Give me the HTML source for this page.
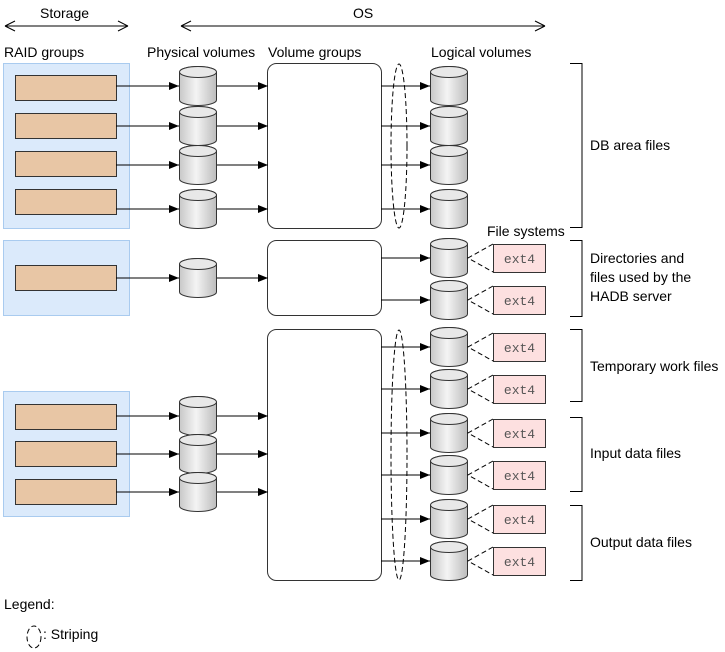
<!DOCTYPE html>
<html><head><meta charset="utf-8"><style>
html,body{margin:0;padding:0;background:#fff;}
svg{display:block;font-family:"Liberation Sans",sans-serif;}
</style></head><body>
<svg width="725" height="652" viewBox="0 0 725 652" xmlns="http://www.w3.org/2000/svg">
<defs>
<linearGradient id="cg" x1="0" x2="1" y1="0" y2="0">
<stop offset="0" stop-color="#c8c8c8"/><stop offset="0.45" stop-color="#f4f4f4"/><stop offset="1" stop-color="#bcbcbc"/>
</linearGradient>
<symbol id="cyl" viewBox="0 0 38 40" width="38" height="40">
<path d="M0.5,6 A18.5,5.5 0 0 1 37.5,6 V34 A18.5,5.5 0 0 1 0.5,34 Z" fill="url(#cg)" stroke="#333" stroke-width="1"/>
<ellipse cx="19" cy="6" rx="18.5" ry="5.5" fill="#e8e8e8" stroke="#333" stroke-width="1"/>
</symbol>
<marker id="ar" viewBox="0 0 10 8" refX="10" refY="4" markerWidth="10" markerHeight="8" orient="auto" markerUnits="userSpaceOnUse">
<path d="M0,0 L10,4 L0,8 Z" fill="#000"/>
</marker>
</defs>
<g font-size="14" fill="#000">
<text x="40" y="18">Storage</text>
<text x="353" y="18">OS</text>
<text x="4" y="57">RAID groups</text>
<text x="147" y="57">Physical volumes</text>
<text x="268" y="57">Volume groups</text>
<text x="431" y="57">Logical volumes</text>
<text x="487" y="236">File systems</text>
<text x="590" y="150">DB area files</text>
<text x="590" y="263">Directories and</text>
<text x="590" y="282">files used by the</text>
<text x="590" y="301">HADB server</text>
<text x="590" y="371">Temporary work files</text>
<text x="590" y="458">Input data files</text>
<text x="590" y="547">Output data files</text>
<text x="4" y="609">Legend:</text>
<text x="43" y="639">: Striping</text>
</g>
<g stroke="#000" fill="none" stroke-width="1">
<path d="M5,26 H128 M5,26 l10,-5 M5,26 l10,5 M128,26 l-10,-5 M128,26 l-10,5"/>
<path d="M181,26 H545 M181,26 l10,-5 M181,26 l10,5 M545,26 l-10,-5 M545,26 l-10,5"/>
<path d="M570,63.5 H582 V227.5 H570"/>
<path d="M570,240.5 H582 V316.5 H570"/>
<path d="M570,329.5 H582 V401.5 H570"/>
<path d="M570,417.5 H582 V491.5 H570"/>
<path d="M570,505.5 H582 V580.5 H570"/>
</g>
<g fill="#dbeafb" stroke="#a9cbef">
<rect x="3.5" y="63.5" width="126" height="165"/>
<rect x="3.5" y="240.5" width="126" height="75"/>
<rect x="3.5" y="391.5" width="126" height="125"/>
</g>
<g fill="#e8c6a5" stroke="#333">
<rect x="15.5" y="75.5" width="101" height="25"/>
<rect x="15.5" y="113.5" width="101" height="25"/>
<rect x="15.5" y="151.5" width="101" height="25"/>
<rect x="15.5" y="189.5" width="101" height="25"/>
<rect x="15.5" y="265.5" width="101" height="25"/>
<rect x="15.5" y="404.5" width="101" height="25"/>
<rect x="15.5" y="441.5" width="101" height="25"/>
<rect x="15.5" y="479.5" width="101" height="25"/>
</g>
<g fill="#fff" stroke="#333">
<rect x="267.5" y="63.5" width="114" height="165" rx="9"/>
<rect x="267.5" y="240.5" width="114" height="75" rx="9"/>
<rect x="267.5" y="329.5" width="114" height="251" rx="9"/>
</g>
<g stroke="#000" stroke-width="1" marker-end="url(#ar)">
<line x1="116" y1="86" x2="179" y2="86"/>
<line x1="116" y1="126" x2="179" y2="126"/>
<line x1="116" y1="165" x2="179" y2="165"/>
<line x1="116" y1="209" x2="179" y2="209"/>
<line x1="116" y1="278" x2="179" y2="278"/>
<line x1="116" y1="416" x2="179" y2="416"/>
<line x1="116" y1="454" x2="179" y2="454"/>
<line x1="116" y1="492" x2="179" y2="492"/>
<line x1="217" y1="86" x2="268" y2="86"/>
<line x1="217" y1="126" x2="268" y2="126"/>
<line x1="217" y1="165" x2="268" y2="165"/>
<line x1="217" y1="209" x2="268" y2="209"/>
<line x1="217" y1="278" x2="268" y2="278"/>
<line x1="217" y1="416" x2="268" y2="416"/>
<line x1="217" y1="454" x2="268" y2="454"/>
<line x1="217" y1="492" x2="268" y2="492"/>
<line x1="381" y1="86" x2="430" y2="86"/>
<line x1="381" y1="126" x2="430" y2="126"/>
<line x1="381" y1="165" x2="430" y2="165"/>
<line x1="381" y1="209" x2="430" y2="209"/>
<line x1="381" y1="258" x2="430" y2="258"/>
<line x1="381" y1="300" x2="430" y2="300"/>
<line x1="381" y1="347" x2="430" y2="347"/>
<line x1="381" y1="389" x2="430" y2="389"/>
<line x1="381" y1="433" x2="430" y2="433"/>
<line x1="381" y1="475" x2="430" y2="475"/>
<line x1="381" y1="519" x2="430" y2="519"/>
<line x1="381" y1="561" x2="430" y2="561"/>
</g>
<g>
<use href="#cyl" x="179" y="66"/><use href="#cyl" x="179" y="106"/><use href="#cyl" x="179" y="145"/><use href="#cyl" x="179" y="189"/>
<use href="#cyl" x="179" y="258"/>
<use href="#cyl" x="179" y="396"/><use href="#cyl" x="179" y="434"/><use href="#cyl" x="179" y="472"/>
<use href="#cyl" x="430" y="66"/><use href="#cyl" x="430" y="106"/><use href="#cyl" x="430" y="145"/><use href="#cyl" x="430" y="189"/>
<use href="#cyl" x="430" y="238"/><use href="#cyl" x="430" y="280"/>
<use href="#cyl" x="430" y="327"/><use href="#cyl" x="430" y="369"/><use href="#cyl" x="430" y="413"/><use href="#cyl" x="430" y="455"/><use href="#cyl" x="430" y="499"/><use href="#cyl" x="430" y="541"/>
</g>
<g stroke="#000" fill="none" stroke-dasharray="5,3">
<ellipse cx="399" cy="146" rx="8" ry="82"/>
<ellipse cx="399" cy="455" rx="8" ry="125"/>
<ellipse cx="34" cy="637" rx="7" ry="11"/>
<path d="M493,244 L468,258 L493,272 M493,286 L468,300 L493,314 M493,333 L468,347 L493,361 M493,375 L468,389 L493,403 M493,419 L468,433 L493,447 M493,461 L468,475 L493,489 M493,505 L468,519 L493,533 M493,547 L468,561 L493,575"/>
</g>
<g fill="#fde0e0" stroke="#333">
<rect x="493.5" y="244.5" width="52" height="28"/>
<rect x="493.5" y="286.5" width="52" height="28"/>
<rect x="493.5" y="333.5" width="52" height="28"/>
<rect x="493.5" y="375.5" width="52" height="28"/>
<rect x="493.5" y="419.5" width="52" height="28"/>
<rect x="493.5" y="461.5" width="52" height="28"/>
<rect x="493.5" y="505.5" width="52" height="28"/>
<rect x="493.5" y="547.5" width="52" height="28"/>
</g>
<g font-family="Liberation Mono, monospace" font-size="13" fill="#555" text-anchor="middle">
<text x="519.5" y="263">ext4</text>
<text x="519.5" y="305">ext4</text>
<text x="519.5" y="352">ext4</text>
<text x="519.5" y="394">ext4</text>
<text x="519.5" y="438">ext4</text>
<text x="519.5" y="480">ext4</text>
<text x="519.5" y="524">ext4</text>
<text x="519.5" y="566">ext4</text>
</g>
</svg>
</body></html>
